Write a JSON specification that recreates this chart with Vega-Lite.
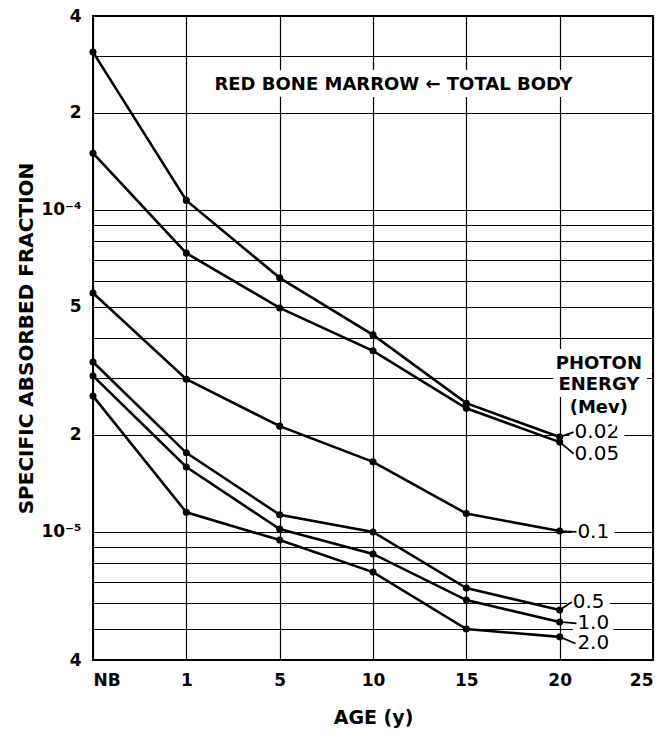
{
  "$schema": "https://vega.github.io/schema/vega-lite/v6.json",
  "width": 560,
  "height": 644,
  "autosize": "none",
  "padding": {"left": 93, "top": 16, "right": 17, "bottom": 74},
  "background": "white",
  "config": {
    "view": {"stroke": "black", "strokeWidth": 2},
    "axis": {
      "grid": true,
      "gridColor": "black",
      "gridWidth": 1.2,
      "gridOpacity": 1,
      "ticks": false,
      "domain": false,
      "labelFont": "DejaVu Sans",
      "labelFontWeight": "bold",
      "labelFontSize": 17,
      "labelColor": "black",
      "titleFont": "DejaVu Sans",
      "titleFontWeight": "bold",
      "titleFontSize": 19,
      "titleColor": "black",
      "labelOverlap": false,
      "labelBound": false
    }
  },
  "datasets": {
    "curves": [
      {"age": "NB", "pos": 0, "energy": "0.02", "saf": 3.09e-4},
      {"age": "1", "pos": 1, "energy": "0.02", "saf": 1.07e-4},
      {"age": "5", "pos": 2, "energy": "0.02", "saf": 6.15e-5},
      {"age": "10", "pos": 3, "energy": "0.02", "saf": 4.09e-5},
      {"age": "15", "pos": 4, "energy": "0.02", "saf": 2.51e-5},
      {"age": "20", "pos": 5, "energy": "0.02", "saf": 1.97e-5},
      {"age": "NB", "pos": 0, "energy": "0.05", "saf": 1.50e-4},
      {"age": "1", "pos": 1, "energy": "0.05", "saf": 7.34e-5},
      {"age": "5", "pos": 2, "energy": "0.05", "saf": 4.96e-5},
      {"age": "10", "pos": 3, "energy": "0.05", "saf": 3.65e-5},
      {"age": "15", "pos": 4, "energy": "0.05", "saf": 2.42e-5},
      {"age": "20", "pos": 5, "energy": "0.05", "saf": 1.90e-5},
      {"age": "NB", "pos": 0, "energy": "0.1", "saf": 5.52e-5},
      {"age": "1", "pos": 1, "energy": "0.1", "saf": 2.98e-5},
      {"age": "5", "pos": 2, "energy": "0.1", "saf": 2.13e-5},
      {"age": "10", "pos": 3, "energy": "0.1", "saf": 1.65e-5},
      {"age": "15", "pos": 4, "energy": "0.1", "saf": 1.14e-5},
      {"age": "20", "pos": 5, "energy": "0.1", "saf": 1.006e-5},
      {"age": "NB", "pos": 0, "energy": "0.5", "saf": 3.37e-5},
      {"age": "1", "pos": 1, "energy": "0.5", "saf": 1.76e-5},
      {"age": "5", "pos": 2, "energy": "0.5", "saf": 1.13e-5},
      {"age": "10", "pos": 3, "energy": "0.5", "saf": 9.99e-6},
      {"age": "15", "pos": 4, "energy": "0.5", "saf": 6.69e-6},
      {"age": "20", "pos": 5, "energy": "0.5", "saf": 5.72e-6},
      {"age": "NB", "pos": 0, "energy": "1.0", "saf": 3.05e-5},
      {"age": "1", "pos": 1, "energy": "1.0", "saf": 1.59e-5},
      {"age": "5", "pos": 2, "energy": "1.0", "saf": 1.02e-5},
      {"age": "10", "pos": 3, "energy": "1.0", "saf": 8.54e-6},
      {"age": "15", "pos": 4, "energy": "1.0", "saf": 6.14e-6},
      {"age": "20", "pos": 5, "energy": "1.0", "saf": 5.25e-6},
      {"age": "NB", "pos": 0, "energy": "2.0", "saf": 2.64e-5},
      {"age": "1", "pos": 1, "energy": "2.0", "saf": 1.15e-5},
      {"age": "5", "pos": 2, "energy": "2.0", "saf": 9.43e-6},
      {"age": "10", "pos": 3, "energy": "2.0", "saf": 7.5e-6},
      {"age": "15", "pos": 4, "energy": "2.0", "saf": 4.99e-6},
      {"age": "20", "pos": 5, "energy": "2.0", "saf": 4.72e-6}
    ],
    "energyLabels": [
      {"label": "0.02", "pos": 5.16, "saf": 2.04e-5},
      {"label": "0.05", "pos": 5.16, "saf": 1.75e-5},
      {"label": "0.1", "pos": 5.19, "saf": 1.0e-5},
      {"label": "0.5", "pos": 5.14, "saf": 6.06e-6},
      {"label": "1.0", "pos": 5.19, "saf": 5.2e-6},
      {"label": "2.0", "pos": 5.19, "saf": 4.52e-6}
    ],
    "leaders": [
      {"pos": 5, "saf": 1.97e-5, "pos2": 5.15, "saf2": 2.04e-5},
      {"pos": 5, "saf": 1.90e-5, "pos2": 5.15, "saf2": 1.75e-5},
      {"pos": 5, "saf": 1.006e-5, "pos2": 5.18, "saf2": 1.0e-5},
      {"pos": 5, "saf": 5.72e-6, "pos2": 5.13, "saf2": 6.06e-6},
      {"pos": 5, "saf": 5.25e-6, "pos2": 5.18, "saf2": 5.2e-6},
      {"pos": 5, "saf": 4.72e-6, "pos2": 5.17, "saf2": 4.5e-6}
    ],
    "notes": [
      {"label": "RED BONE MARROW ← TOTAL BODY", "pos": 3.22, "saf": 2.45e-4},
      {"label": "PHOTON", "pos": 5.42, "saf": 3.31e-5},
      {"label": "ENERGY", "pos": 5.42, "saf": 2.85e-5},
      {"label": "(Mev)", "pos": 5.42, "saf": 2.42e-5}
    ]
  },
  "layer": [
    {
      "data": {"name": "curves"},
      "mark": {"type": "line", "color": "black", "strokeWidth": 2.6},
      "encoding": {
        "x": {
          "field": "pos", "type": "quantitative",
          "scale": {"domain": [0, 6], "nice": false, "zero": false},
          "axis": {
            "values": [0, 1, 2, 3, 4, 5, 6],
            "labelExpr": "['NB','1','5','10','15','20','25'][datum.value]",
            "labelPadding": 12,
            "title": "AGE (y)",
            "titlePadding": 20
          }
        },
        "y": {
          "field": "saf", "type": "quantitative",
          "scale": {"type": "log", "domain": [4e-6, 4e-4], "nice": false, "zero": false},
          "axis": {
            "values": [4e-6, 5e-6, 6e-6, 7e-6, 8e-6, 9e-6, 1e-5, 2e-5, 3e-5, 4e-5, 5e-5, 6e-5, 7e-5, 8e-5, 9e-5, 1e-4, 2e-4, 3e-4, 4e-4],
            "labelExpr": "abs(datum.value/1e-4-1)<0.01 ? '10⁻⁴' : abs(datum.value/1e-5-1)<0.01 ? '10⁻⁵' : (abs(datum.value/2e-4-1)<0.01 || abs(datum.value/2e-5-1)<0.01) ? '2' : abs(datum.value/5e-5-1)<0.01 ? '5' : (abs(datum.value/4e-4-1)<0.01 || abs(datum.value/4e-6-1)<0.01) ? '4' : ''",
            "labelPadding": 12,
            "title": "SPECIFIC ABSORBED FRACTION",
            "titleFontSize": 20,
            "titlePadding": 4
          }
        },
        "detail": {"field": "energy", "type": "nominal"}
      }
    },
    {
      "data": {"name": "curves"},
      "mark": {"type": "point", "filled": true, "color": "black", "size": 50, "opacity": 1},
      "encoding": {
        "x": {"field": "pos", "type": "quantitative"},
        "y": {"field": "saf", "type": "quantitative"}
      }
    },
    {
      "data": {"name": "energyLabels"},
      "mark": {"type": "text", "align": "left", "baseline": "middle", "font": "DejaVu Sans", "fontSize": 20, "stroke": "white", "strokeWidth": 14, "fill": "white"},
      "encoding": {
        "x": {"field": "pos", "type": "quantitative"},
        "y": {"field": "saf", "type": "quantitative"},
        "text": {"field": "label", "type": "nominal"}
      }
    },
    {
      "data": {"name": "leaders"},
      "mark": {"type": "rule", "color": "black", "strokeWidth": 1.8},
      "encoding": {
        "x": {"field": "pos", "type": "quantitative"},
        "y": {"field": "saf", "type": "quantitative"},
        "x2": {"field": "pos2"},
        "y2": {"field": "saf2"}
      }
    },
    {
      "data": {"name": "energyLabels"},
      "mark": {"type": "text", "align": "left", "baseline": "middle", "font": "DejaVu Sans", "fontSize": 20, "fill": "black"},
      "encoding": {
        "x": {"field": "pos", "type": "quantitative"},
        "y": {"field": "saf", "type": "quantitative"},
        "text": {"field": "label", "type": "nominal"}
      }
    },
    {
      "data": {"name": "notes"},
      "mark": {"type": "text", "align": "center", "baseline": "middle", "font": "DejaVu Sans", "fontWeight": "bold", "fontSize": 18, "stroke": "white", "strokeWidth": 14, "fill": "white"},
      "encoding": {
        "x": {"field": "pos", "type": "quantitative"},
        "y": {"field": "saf", "type": "quantitative"},
        "text": {"field": "label", "type": "nominal"}
      }
    },
    {
      "data": {"name": "notes"},
      "mark": {"type": "text", "align": "center", "baseline": "middle", "font": "DejaVu Sans", "fontWeight": "bold", "fontSize": 18, "fill": "black"},
      "encoding": {
        "x": {"field": "pos", "type": "quantitative"},
        "y": {"field": "saf", "type": "quantitative"},
        "text": {"field": "label", "type": "nominal"}
      }
    }
  ]
}
